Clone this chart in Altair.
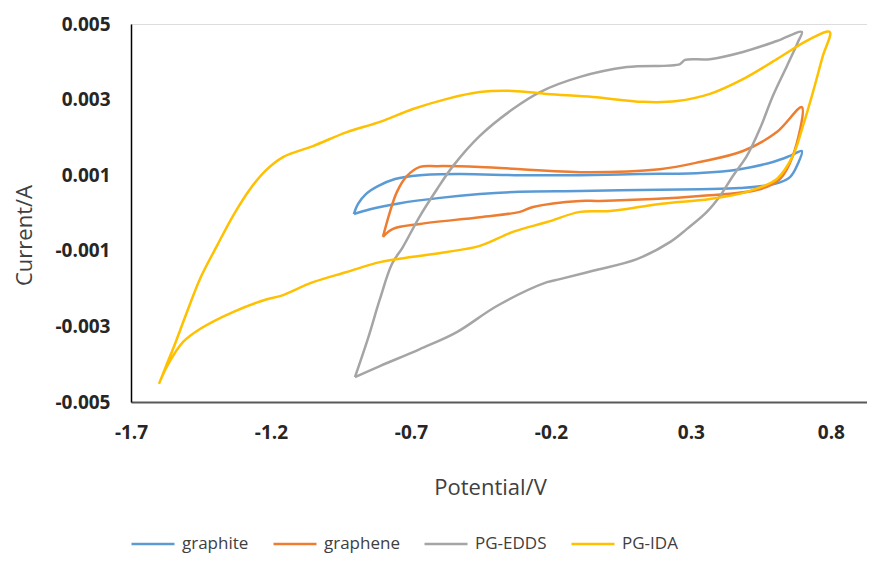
import altair as alt
import pandas as pd

series_names = ["graphite", "graphene", "PG-EDDS", "PG-IDA"]
series_colors = ["#5B9BD5", "#ED7D31", "#A5A5A5", "#FFC000"]

x_ticks = [-1.7, -1.2, -0.7, -0.2, 0.3, 0.8]
y_ticks = [-0.005, -0.003, -0.001, 0.001, 0.003, 0.005]

graphite_v = [-0.904, -0.889, -0.861, -0.818, -0.757, -0.668, -0.525, -0.311, -0.096, 0.118,
              0.332, 0.475, 0.593, 0.654, 0.696, 0.682, 0.654, 0.600, 0.475, 0.332,
              0.118, -0.096, -0.311, -0.454, -0.596, -0.739, -0.846, -0.904]
graphite_i = [-0.00003, 0.00024, 0.00050, 0.00071, 0.00090, 0.00100, 0.00103, 0.00100, 0.00100, 0.00103,
              0.00106, 0.00116, 0.00135, 0.00151, 0.00164, 0.00130, 0.00095, 0.00077, 0.00066, 0.00063,
              0.00061, 0.00058, 0.00056, 0.00050, 0.00040, 0.00026, 0.00010, -0.00003]

graphene_v = [-0.800, -0.775, -0.750, -0.714, -0.668, -0.607, -0.454, -0.096, 0.189, 0.332,
              0.486, 0.607, 0.696, 0.664, 0.618, 0.546, 0.332, -0.025, -0.096, -0.264,
              -0.311, -0.454, -0.668, -0.764, -0.800]
graphene_i = [-0.00063, 0.00003, 0.00056, 0.00098, 0.00122, 0.00124, 0.00122, 0.00108, 0.00116, 0.00135,
              0.00164, 0.00214, 0.00280, 0.00151, 0.00090, 0.00063, 0.00045, 0.00032, 0.00032, 0.00016,
              0.00003, -0.00011, -0.00029, -0.00042, -0.00063]

edds_v = [-0.900, -0.854, -0.811, -0.768, -0.729, -0.668, -0.607, -0.550, -0.454, -0.336,
          -0.239, -0.096, 0.071, 0.261, 0.279, 0.368, 0.486, 0.607, 0.696, 0.682,
          0.643, 0.593, 0.546, 0.500, 0.450, 0.404, 0.357, 0.286, 0.225, 0.107,
          -0.050, -0.168, -0.214, -0.393, -0.536, -0.668, -0.811, -0.900]
edds_i = [-0.00434, -0.00333, -0.00228, -0.00135, -0.00090, -0.00008, 0.00063, 0.00124, 0.00204, 0.00275,
          0.00320, 0.00360, 0.00386, 0.00394, 0.00405, 0.00407, 0.00426, 0.00455, 0.00479, 0.00452,
          0.00389, 0.00310, 0.00222, 0.00151, 0.00098, 0.00045, 0.00003, -0.00042, -0.00077, -0.00122,
          -0.00153, -0.00175, -0.00183, -0.00246, -0.00315, -0.00360, -0.00405, -0.00434]

ida_v = [-1.600, -1.575, -1.550, -1.500, -1.454, -1.393, -1.336, -1.275, -1.221, -1.157,
         -1.050, -0.929, -0.811, -0.693, -0.571, -0.454, -0.336, -0.214, -0.050, 0.129,
         0.250, 0.368, 0.486, 0.607, 0.725, 0.796, 0.771, 0.736, 0.700, 0.664,
         0.607, 0.500, 0.368, 0.189, 0.011, -0.096, -0.214, -0.336, -0.454, -0.571,
         -0.693, -0.811, -0.929, -1.050, -1.168, -1.214, -1.336, -1.454, -1.514, -1.571,
         -1.600]
ida_i = [-0.00452, -0.00405, -0.00360, -0.00262, -0.00175, -0.00087, -0.00008, 0.00063, 0.00111, 0.00148,
         0.00177, 0.00214, 0.00241, 0.00275, 0.00302, 0.00320, 0.00323, 0.00315, 0.00307, 0.00294,
         0.00296, 0.00315, 0.00354, 0.00407, 0.00460, 0.00479, 0.00415, 0.00320, 0.00230, 0.00151,
         0.00090, 0.00056, 0.00037, 0.00024, 0.00005, 0.00003, -0.00024, -0.00050, -0.00087, -0.00103,
         -0.00116, -0.00130, -0.00156, -0.00183, -0.00220, -0.00228, -0.00262, -0.00307, -0.00341, -0.00405,
         -0.00452]

rows = []
for name, vs, cs in zip(series_names,
                        [graphite_v, graphene_v, edds_v, ida_v],
                        [graphite_i, graphene_i, edds_i, ida_i]):
    for k, (v, c) in enumerate(zip(vs, cs)):
        rows.append({"series": name, "V": v, "I": c, "idx": k})
df = pd.DataFrame(rows)

FONT = "Open Sans"

chart = alt.Chart(df).mark_line(strokeWidth=2.5, interpolate="catmull-rom").encode(
    x=alt.X("V:Q",
            scale=alt.Scale(domain=[-1.7, 0.929], nice=False, zero=False),
            axis=alt.Axis(title="Potential/V", values=x_ticks, grid=False, ticks=False,
                          labelExpr="(datum.value < 0 ? '-' : '') + format(abs(datum.value), '.1f')",
                          labelFont=FONT, labelFontSize=19, labelFontWeight="bold", labelColor="#262626",
                          labelPadding=21, labelFlush=False, labelOverlap=False,
                          domainColor="#595959", domainWidth=2,
                          titleFont=FONT, titleFontSize=22, titleFontWeight="normal", titleColor="#404040",
                          titleX=359, titleY=85, titleBaseline="middle", titleAnchor="middle")),
    y=alt.Y("I:Q",
            scale=alt.Scale(domain=[-0.005, 0.005], nice=False, zero=False),
            axis=alt.Axis(title="Current/A", values=y_ticks, grid=False, ticks=False,
                          labelExpr="(datum.value < 0 ? '-' : '') + format(abs(datum.value), '.3f')",
                          labelFont=FONT, labelFontSize=19, labelFontWeight="bold", labelColor="#262626",
                          labelPadding=21, labelFlush=False, labelOverlap=False,
                          domainColor="#000000", domainWidth=1.5,
                          titleFont=FONT, titleFontSize=22, titleFontWeight="normal", titleColor="#404040",
                          titleX=-107, titleY=211, titleBaseline="middle", titleAngle=270)),
    color=alt.Color("series:N",
                    scale=alt.Scale(domain=series_names, range=series_colors),
                    legend=alt.Legend(title=None, orient="none", legendX=-1, legendY=497,
                                      direction="horizontal", columns=4, columnPadding=19,
                                      symbolType="stroke", symbolSize=1849, symbolStrokeWidth=2.5,
                                      labelFont=FONT, labelFontSize=17, labelColor="#404040",
                                      labelOffset=6, padding=0)),
    detail="series:N",
    order=alt.Order("idx:Q"),
).properties(
    width=736, height=378,
    autosize=alt.AutoSizeParams(type="none"),
    padding={"left": 123, "top": 16, "right": 0, "bottom": 153},
).configure_view(stroke=None).configure(background="white")

chart.save("out.html", embed_options={"renderer": "svg", "actions": False})
